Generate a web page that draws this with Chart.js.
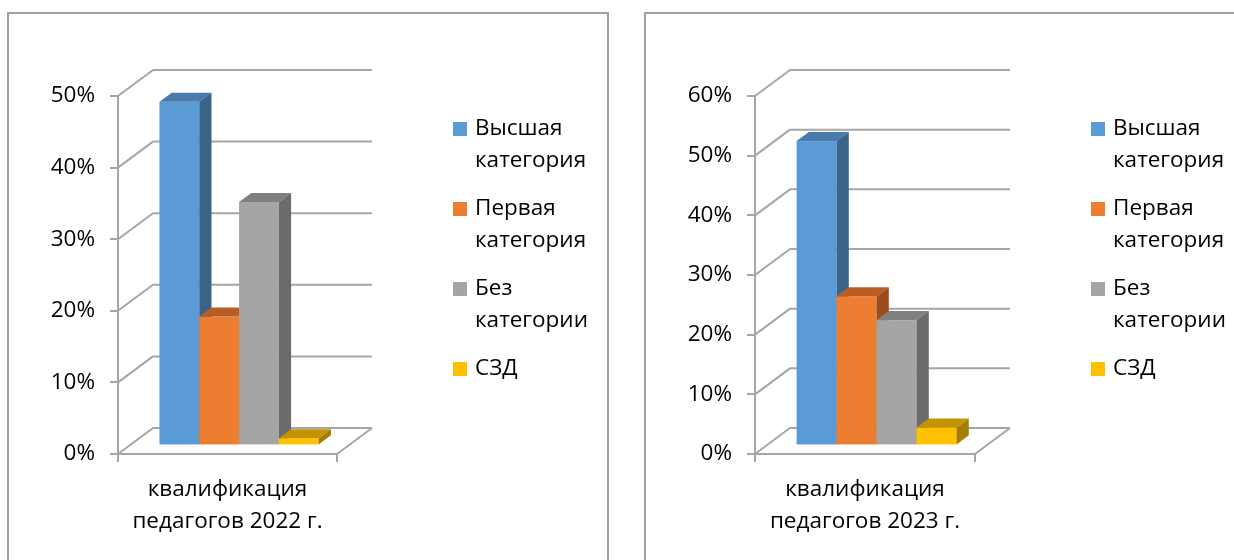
<!DOCTYPE html>
<html>
<head>
<meta charset="utf-8">
<script src="https://cdn.jsdelivr.net/npm/chart.js@4/dist/chart.umd.min.js"></script>
<style>
  html, body { margin: 0; padding: 0; background: #fff; overflow: hidden; }
  body { width: 1234px; height: 560px; position: relative; }
  .frame { position: absolute; border: 2px solid #a0a0a0; box-sizing: border-box; }
  canvas { position: absolute; }
</style>
</head>
<body>
<div class="frame" style="left:7px; top:12px; width:602px; height:600px;"></div>
<div class="frame" style="left:644px; top:12px; width:640px; height:600px;"></div>
<canvas id="c2022" width="598" height="546" style="left:9px; top:14px;"></canvas>
<canvas id="c2023" width="588" height="546" style="left:646px; top:14px;"></canvas>
<script>
// series shared by both charts
const seriesLabels = ['Высшая категория', 'Первая категория', 'Без категории', 'СЗД'];
const legendLines = [['Высшая', 'категория'], ['Первая', 'категория'], ['Без', 'категории'], ['СЗД']];
const frontColors = ['#5b9bd5', '#ed7d31', '#a5a5a5', '#ffc000'];
const topColors = ['#4a7aab', '#b95d22', '#808080', '#c39300'];
const sideColors = ['#3a6589', '#9b4d1c', '#6b6b6b', '#a57d00'];

// 2022
const categories2022 = [['квалификация', 'педагогов 2022 г.']];
const values2022 = [0.48, 0.18, 0.34, 0.01];
const yMax2022 = 0.5;

// 2023
const categories2023 = [['квалификация', 'педагогов 2023 г.']];
const values2023 = [0.51, 0.25, 0.21, 0.03];
const yMax2023 = 0.6;

const FONT_FAMILY = '"Open Sans", "Noto Sans", sans-serif';
const FONT_SIZE = 22.5;
const GRID = '#a6a6a6';
const DEPTH = { x: 35, y: -26 };   // oblique offset of the back wall
const BAR_FRONT = 0.33;            // bars sit part-way into the depth
const BAR_BACK = 0.68;

// back wall, floor and 3D bars; replaces the flat bar drawing
const obliquePlugin = {
  id: 'oblique3d',
  beforeDatasetsDraw(chart) {
    const { ctx, chartArea: a, scales: { y } } = chart;
    ctx.save();
    ctx.strokeStyle = GRID;
    ctx.lineWidth = 2;
    ctx.lineJoin = 'round';
    y.ticks.forEach((t) => {
      const py = y.getPixelForValue(t.value);
      ctx.beginPath();
      ctx.moveTo(a.left, py);
      ctx.lineTo(a.left + DEPTH.x, py + DEPTH.y);
      ctx.lineTo(a.right + DEPTH.x, py + DEPTH.y);
      ctx.stroke();
    });
    const p0 = y.getPixelForValue(0);
    ctx.beginPath();
    ctx.moveTo(a.right, p0);
    ctx.lineTo(a.right + DEPTH.x, p0 + DEPTH.y);
    ctx.stroke();

    const sx = DEPTH.x * BAR_FRONT, sy = DEPTH.y * BAR_FRONT;
    const bx = DEPTH.x * (BAR_BACK - BAR_FRONT), by = DEPTH.y * (BAR_BACK - BAR_FRONT);
    chart.data.datasets.forEach((ds, i) => {
      const el = chart.getDatasetMeta(i).data[0];
      if (!el) return;
      const p = el.getProps(['x', 'y', 'base', 'width'], true);
      const L = p.x - p.width / 2 + sx, R = p.x + p.width / 2 + sx;
      const T = p.y + sy, B = p.base + sy;
      ctx.fillStyle = frontColors[i];
      ctx.fillRect(L, T, R - L, B - T);
      ctx.fillStyle = topColors[i];
      ctx.beginPath();
      ctx.moveTo(L, T); ctx.lineTo(R, T); ctx.lineTo(R + bx, T + by); ctx.lineTo(L + bx, T + by);
      ctx.closePath();
      ctx.fill();
      ctx.fillStyle = sideColors[i];
      ctx.beginPath();
      ctx.moveTo(R, T); ctx.lineTo(R + bx, T + by); ctx.lineTo(R + bx, B + by); ctx.lineTo(R, B);
      ctx.closePath();
      ctx.fill();
    });
    ctx.restore();
    return false;
  },
};

// legend to the right with wrapped labels
const sideLegendPlugin = {
  id: 'sideLegend',
  afterDraw(chart) {
    const { ctx, chartArea: a } = chart;
    ctx.save();
    ctx.font = `${FONT_SIZE}px ${FONT_FAMILY}`;
    ctx.textBaseline = 'middle';
    ctx.textAlign = 'left';
    legendLines.forEach((lines, i) => {
      const cy = a.top + 33 + i * 80;
      ctx.fillStyle = frontColors[i];
      ctx.fillRect(a.right + 116, cy - 7, 14, 14);
      ctx.fillStyle = '#000';
      lines.forEach((line, j) => ctx.fillText(line, a.right + 138, cy + j * 32));
    });
    ctx.restore();
  },
};

function makeChart(id, categories, values, yMax, rightPad) {
  return new Chart(document.getElementById(id), {
    type: 'bar',
    data: {
      labels: categories,
      datasets: seriesLabels.map((label, i) => ({
        label,
        data: [values[i]],
        backgroundColor: frontColors[i],
        categoryPercentage: 0.727,
        barPercentage: 1,
      })),
    },
    plugins: [obliquePlugin, sideLegendPlugin],
    options: {
      responsive: false,
      animation: false,
      layout: { padding: { left: 0, right: rightPad, top: 82, bottom: 6 } },
      plugins: { legend: { display: false }, tooltip: { enabled: false } },
      scales: {
        x: {
          grid: { drawOnChartArea: false, drawTicks: true, tickLength: 8, color: GRID, lineWidth: 2 },
          border: { display: true, color: GRID, width: 2 },
          ticks: { color: '#000', padding: 11, font: { family: FONT_FAMILY, size: FONT_SIZE, lineHeight: 1.45 } },
          afterFit: (scale) => { scale.height = 100; },
        },
        y: {
          min: 0,
          max: yMax,
          grid: { drawOnChartArea: false, drawTicks: true, tickLength: 8, color: GRID, lineWidth: 2 },
          border: { display: true, color: GRID, width: 2 },
          ticks: {
            stepSize: 0.1,
            color: '#000',
            padding: 15,
            font: { family: FONT_FAMILY, size: FONT_SIZE },
            callback: (v) => `${Math.round(v * 100)}%`,
          },
          afterFit: (scale) => { scale.width = 109; },
        },
      },
    },
  });
}

makeChart('c2022', categories2022, values2022, yMax2022, 270);
makeChart('c2023', categories2023, values2023, yMax2023, 259);
</script>
</body>
</html>
